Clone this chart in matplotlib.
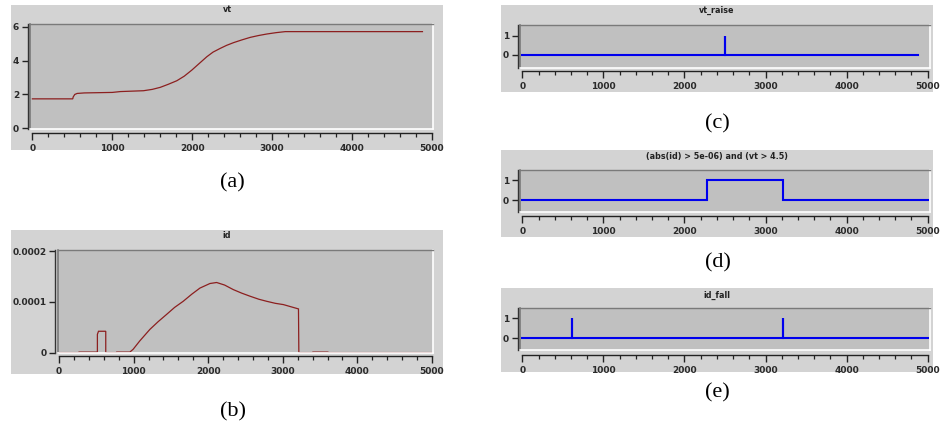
import matplotlib
matplotlib.use('Agg')
import matplotlib.pyplot as plt
from matplotlib.lines import Line2D
from matplotlib.ticker import MultipleLocator

# ---------------- data ----------------
vt_t = [0, 505, 510, 530, 560, 650, 1000, 1100, 1390, 1500, 1600, 1700, 1807, 1900, 1995,
        2090, 2183, 2260, 2350, 2430, 2517, 2620, 2725, 2830, 2934, 3050, 3164, 4880]
vt_v = [1.74, 1.74, 1.85, 2.0, 2.06, 2.09, 2.12, 2.17, 2.22, 2.3, 2.42, 2.6, 2.81, 3.08, 3.44,
        3.84, 4.23, 4.5, 4.72, 4.9, 5.06, 5.22, 5.37, 5.48, 5.57, 5.65, 5.71, 5.71]

id_t = [0, 265, 265, 515, 515, 530, 627, 627, 770, 770, 950, 994, 1083, 1218, 1330, 1441,
        1550, 1665, 1780, 1889, 2023, 2113, 2220, 2337, 2450, 2561, 2680, 2784, 2900, 3008,
        3210, 3215, 3400, 3400, 3600, 3620, 5000]
id_v = [0, 0, 1.0e-6, 1.0e-6, 3.6e-5, 4.2e-5, 4.2e-5, 0, 0, 1.0e-6, 1.0e-6, 6.5e-6,
        2.3e-5, 4.56e-5, 6.1e-5, 7.5e-5, 8.9e-5, 1.01e-4, 1.15e-4, 1.27e-4, 1.36e-4,
        1.38e-4, 1.33e-4, 1.24e-4, 1.17e-4, 1.11e-4, 1.05e-4, 1.01e-4, 9.7e-5, 9.45e-5,
        8.6e-5, 0, 0, 1.0e-6, 1.0e-6, 0, 0]

raise_t = [0, 2505, 2505, 2505, 4880]
raise_v = [0, 0, 1, 0, 0]

cond_t = [0, 2280, 2280, 3210, 3210, 5000]
cond_v = [0, 0, 1, 1, 0, 0]

fall_t = [0, 615, 615, 615, 3210, 3210, 3210, 5000]
fall_v = [0, 0, 1, 0, 0, 1, 0, 0]

titles = ['vt', 'id', 'vt_raise', '(abs(id) > 5e-06) and (vt > 4.5)', 'id_fall']
captions = ['(a)', '(b)', '(c)', '(d)', '(e)']
x_ticks = [0, 1000, 2000, 3000, 4000, 5000]

# ---------------- layout ----------------
W, H = 947, 433
fig = plt.figure(figsize=(W / 100, H / 100), dpi=100)
fig.patch.set_facecolor('white')

OUTER = '#d3d3d3'
INNER = '#c0c0c0'
RED = '#8c1f1f'
BLUE = '#0000ee'
PX = 0.72  # points per pixel


def rect(x0, y0, x1, y1):
    return [x0 / W, 1 - y1 / H, (x1 - x0) / W, (y1 - y0) / H]


def panel(bg, area, yspine_x, xspine_y, title, title_y, t, v, color, lw,
          xlim, ylim, yticks, yticklabels, caption, cap_xy):
    bg_ax = fig.add_axes(rect(*bg), zorder=-5)
    bg_ax.set_facecolor(OUTER)
    bg_ax.set_xticks([])
    bg_ax.set_yticks([])
    for s in bg_ax.spines.values():
        s.set_visible(False)
    ax = fig.add_axes(rect(*area), zorder=1)
    ax.set_facecolor(INNER)
    ax.plot(t, v, color=color, lw=lw, solid_joinstyle='miter')
    ax.set_xlim(*xlim)
    ax.set_ylim(*ylim)
    # bevel frame
    ax.spines['top'].set_color('#7a7a7a')
    ax.spines['top'].set_linewidth(1.0)
    ax.spines['right'].set_color('white')
    ax.spines['right'].set_linewidth(1.2)
    ax.add_line(Line2D([0, 0], [0, 1], transform=ax.transAxes, color='#7a7a7a',
                       lw=1.2, clip_on=False))
    ax.add_line(Line2D([0, 1], [0, 0], transform=ax.transAxes, color='white',
                       lw=1.2, clip_on=False))
    # axes lines
    ax.spines['left'].set_position(('outward', (area[0] - yspine_x) * PX))
    ax.spines['left'].set_color('#333333')
    ax.spines['left'].set_linewidth(1.0)
    ax.spines['bottom'].set_position(('outward', (xspine_y - area[3]) * PX))
    ax.spines['bottom'].set_color('#222222')
    ax.spines['bottom'].set_linewidth(1.0)
    ax.spines['bottom'].set_bounds(0, 5000)
    ax.set_xticks(x_ticks)
    ax.set_xticklabels([str(x) for x in x_ticks])
    ax.xaxis.set_minor_locator(MultipleLocator(200))
    ax.set_yticks(yticks)
    ax.set_yticklabels(yticklabels)
    ax.tick_params(axis='x', which='major', length=5, width=1.0, color='#222222',
                   labelsize=6.5, pad=3, labelcolor='#2a2a2a')
    ax.tick_params(axis='x', which='minor', length=3, width=0.9, color='#222222')
    ax.tick_params(axis='y', which='major', length=4.5, width=1.0, color='#222222',
                   labelsize=6.5, pad=1.5, labelcolor='#2a2a2a')
    for lab in ax.get_xticklabels() + ax.get_yticklabels():
        lab.set_fontweight('semibold')
    fig.text((bg[0] + bg[2]) / 2 / W, 1 - title_y / H, title, ha='center', va='center',
             fontsize=5.8, fontweight='bold', color='#222222')
    fig.text(cap_xy[0] / W, 1 - cap_xy[1] / H, caption, ha='center', va='center',
             fontsize=16, family='Liberation Serif')
    return ax


panel((11, 5, 443, 150), (30, 24, 433, 129), 27.5, 133, titles[0], 10,
      vt_t, vt_v, RED, 0.9, (-30, 5012), (-0.04, 6.16), [0, 2, 4, 6],
      ['0', '2', '4', '6'], captions[0], (232, 183))

panel((11, 230, 443, 374), (58, 250, 433, 353), 55, 355.5, titles[1], 236,
      id_t, id_v, RED, 0.9, (-13, 5013), (-0.0000008, 0.000202),
      [0, 0.0001, 0.0002], ['0', '0.0001', '0.0002'], captions[1], (233, 412))

panel((501, 5, 933, 92), (520, 25, 930, 68), 517.5, 71, titles[2], 10,
      raise_t, raise_v, BLUE, 1.5, (-29, 5029), (-0.69, 1.55), [0, 1],
      ['0', '1'], captions[2], (717, 124))

panel((501, 150, 933, 237), (520, 170, 930, 212), 517.5, 216, titles[3], 157,
      cond_t, cond_v, BLUE, 1.5, (-29, 5029), (-0.58, 1.5), [0, 1],
      ['0', '1'], captions[3], (718, 263))

panel((501, 288, 933, 372), (520, 308, 930, 350), 517.5, 355, titles[4], 295,
      fall_t, fall_v, BLUE, 1.5, (-29, 5029), (-0.58, 1.5), [0, 1],
      ['0', '1'], captions[4], (717, 393))

fig.savefig('out.png', dpi=100, facecolor='white')
